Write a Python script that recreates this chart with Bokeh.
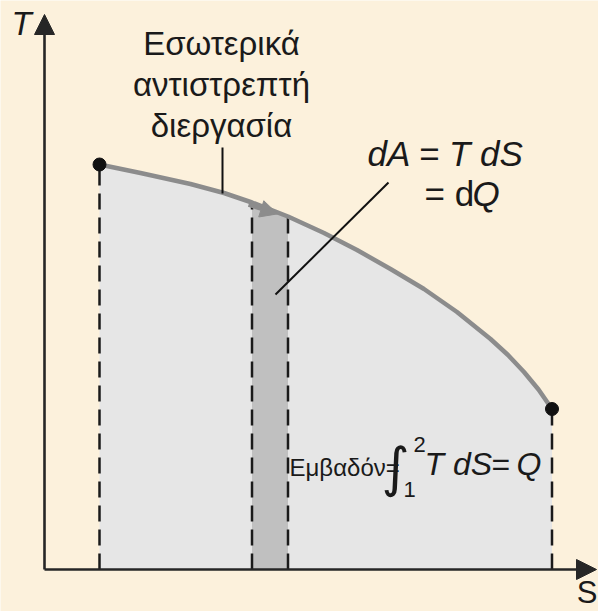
from bokeh.plotting import figure
from bokeh.models import Range1d, Arrow, NormalHead
from bokeh.core.properties import value
from bokeh.embed import file_html
from bokeh.resources import INLINE

# ---- data ----
S_curve = [1.10, 1.92, 2.92, 3.59, 4.15, 4.87, 5.59, 6.25, 6.92, 7.59, 8.25, 8.92, 9.27, 9.59, 9.88, 10.15]
T_curve = [8.10, 7.93, 7.71, 7.53, 7.34, 7.06, 6.73, 6.39, 6.01, 5.61, 5.15, 4.61, 4.29, 3.95, 3.60, 3.21]
S_strip = [4.15, 4.87]
T_strip = [7.34, 7.06]
state_S = [1.10, 10.15]
state_T = [8.10, 3.21]
axis_S_end = 11.04
axis_T_end = 11.1
label_lines = ["Εσωτερικά", "αντιστρεπτή", "διεργασία"]

BG = "#fcf1dc"
FONT = value("Liberation Sans")


def X(px):
    return (px - 44) / 50.0


def Y(py):
    return (569 - py) / 50.0


p = figure(width=598, height=611, output_backend="svg", toolbar_location=None,
           x_range=Range1d(X(0), X(598)), y_range=Range1d(Y(611), Y(0)),
           x_axis_type=None, y_axis_type=None, min_border=0,
           background_fill_color=BG, border_fill_color=BG, outline_line_color=None)
p.grid.visible = False

# area under the curve
p.varea(x=S_curve, y1=0, y2=T_curve, fill_color="#e6e6e6")
# differential strip
p.varea(x=S_strip, y1=0, y2=T_strip, fill_color="#c0c0c0")

# dashed verticals
dx = [state_S[0], S_strip[0], S_strip[1], state_S[1]]
dy = [state_T[0], T_strip[0], T_strip[1], state_T[1]]
p.segment(x0=dx, y0=[0] * 4, x1=dx, y1=dy, line_color="#1a1a1a",
          line_width=2.5, line_dash="16 8")

# process curve
p.line(S_curve, T_curve, line_color="#8c8c8c", line_width=4.5, line_join="round")
p.add_layout(Arrow(end=NormalHead(size=17, fill_color="#8c8c8c", line_color="#8c8c8c"),
                   x_start=X(248), y_start=Y(204.4), x_end=X(277), y_end=Y(213.4),
                   line_color="#8c8c8c", line_width=4))

# state points
p.scatter(state_S, state_T, size=13, color="#111111")

# axes
for xe, ye in [(0, axis_T_end), (axis_S_end, 0)]:
    p.add_layout(Arrow(end=NormalHead(size=20, fill_color="#262626", line_color="#262626"),
                       x_start=0, y_start=0, x_end=xe, y_end=ye,
                       line_color="#262626", line_width=2.6))

# leader lines
p.segment(x0=[X(222), X(388)], y0=[Y(147), Y(182)], x1=[X(222), X(275)], y1=[Y(193), Y(294)],
          line_color="#111111", line_width=2)


def txt(px, py, s, size, style="normal", align="left", font=FONT):
    # py is the wanted baseline; the renderer draws ~0.35 em lower
    off = 0.35 * float(size.replace("px", ""))
    p.text(x=[X(px)], y=[Y(py - off)], text=[s], text_font=font, text_font_size=size,
           text_font_style=style, text_align=align, text_baseline="alphabetic",
           text_color="#1a1a1a")


txt(11, 35, "T", "33px", "italic")
txt(597, 603, "S", "31px", "normal", "right")
for s, by in zip(label_lines, [55, 96, 137]):
    txt(221, by, s, "33px", "normal", "center")

txt(367, 165, "dA = T dS", "35px", "italic")
txt(424, 205, "= d", "35px")
txt(472, 205, "Q", "35px", "italic")

txt(289, 475, "Εμβαδόν=", "24px")
txt(381, 486, "∫", "54px", font=value("DejaVu Sans"))
txt(413, 452, "2", "22px")
txt(403, 497, "1", "22px")
txt(424, 475, "T dS", "32px", "italic")
txt(491, 475, "=", "32px")
txt(516, 475, "Q", "32px", "italic")

html = file_html(p, INLINE)
html = html.replace("<body>", '<body style="background:%s">' % BG, 1)
open("out.html", "w").write(html)
